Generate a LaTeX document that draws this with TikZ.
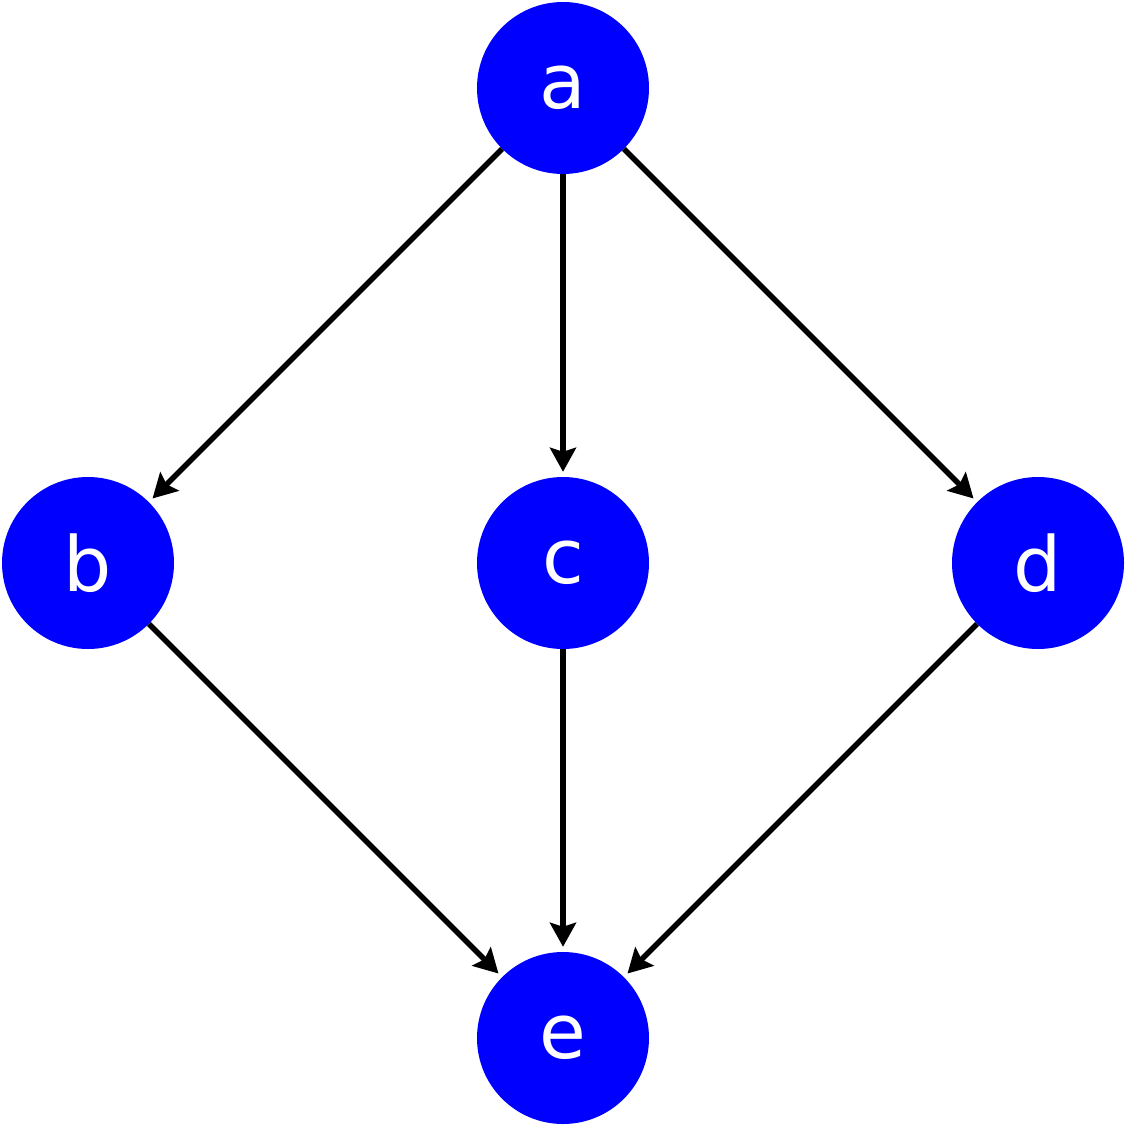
\documentclass[tikz,border=0pt]{standalone}
\usepackage{fontspec}
\setmainfont{DejaVu Sans}
\usetikzlibrary{arrows.meta}
\definecolor{nodeblue}{RGB}{0,0,255}
\begin{document}
\begin{tikzpicture}[x=1pt,y=-1pt,
  vertex/.style={circle,fill=nodeblue,draw=none,minimum size=172pt,inner sep=0pt,text=white,font=\fontsize{76}{76}\selectfont},
  edgearrow/.style={line width=5.5pt,-{Stealth[length=24pt,width=26pt,inset=4pt]},shorten >=5pt}]
\useasboundingbox (0,0) rectangle (1134,1134);
\node[vertex] (a) at (563,88) {a};
\node[vertex] (b) at (88,563) {b};
\node[vertex] (c) at (563,563) {c};
\node[vertex] (d) at (1038,563) {d};
\node[vertex] (e) at (563,1038) {e};
\draw[edgearrow] (a) -- (b);
\draw[edgearrow] (a) -- (c);
\draw[edgearrow] (a) -- (d);
\draw[edgearrow] (b) -- (e);
\draw[edgearrow] (c) -- (e);
\draw[edgearrow] (d) -- (e);
\end{tikzpicture}
\end{document}
